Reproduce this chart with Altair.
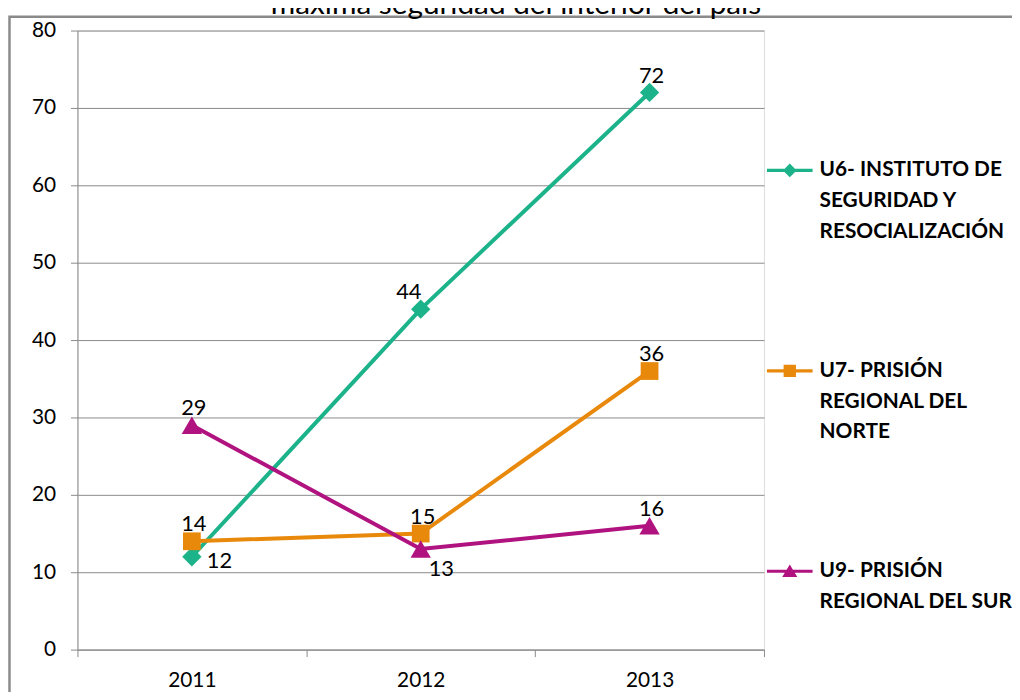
import altair as alt
import pandas as pd

# ---------------- data ----------------
years = ["2011", "2012", "2013"]
series = [
    "U6- INSTITUTO DE|SEGURIDAD Y|RESOCIALIZACIÓN",
    "U7- PRISIÓN|REGIONAL DEL|NORTE",
    "U9- PRISIÓN|REGIONAL DEL SUR",
]
u6_values = [12, 44, 72]
u7_values = [14, 15, 36]
u9_values = [29, 13, 16]
y_ticks = [0, 10, 20, 30, 40, 50, 60, 70, 80]
title_text = "máxima seguridad del interior del país"

# ---------------- style ----------------
colors = ["#1DB38A", "#E8890C", "#B0127F"]
shapes = ["diamond", "square", "triangle-up"]
sizes = [380, 320, 420]
legend_paths = [
    "M-1,-0.07L1,-0.07L1,0.07L-1,0.07Z M0,-0.3L0.3,0L0,0.3L-0.3,0Z",
    "M-1,-0.07L1,-0.07L1,0.07L-1,0.07Z M-0.27,-0.27L0.27,-0.27L0.27,0.27L-0.27,0.27Z",
    "M-1,-0.07L1,-0.07L1,0.07L-1,0.07Z M0,-0.3L0.33,0.25L-0.33,0.25Z",
]
label_pos = {
    (series[0], "2011"): "right",
    (series[0], "2012"): "left",
    (series[2], "2012"): "below",
}
FONT = "Lato"
GRAY = "#8a8a8a"

rows = []
for s, vals in zip(series, [u6_values, u7_values, u9_values]):
    for yr, v in zip(years, vals):
        rows.append({"serie": s, "year": yr, "value": v,
                     "pos": label_pos.get((s, yr), "above")})
df = pd.DataFrame(rows)

x_enc = alt.X(
    "year:N",
    scale=alt.Scale(domain=years, paddingInner=0, paddingOuter=0),
    axis=alt.Axis(
        title=None, labelAngle=0, tickBand="extent", grid=False,
        domainColor=GRAY, tickColor=GRAY, tickSize=7, labelPadding=13,
        labelFont=FONT, labelFontSize=21, labelColor="#000",
    ),
)
y_enc = alt.Y(
    "value:Q",
    scale=alt.Scale(domain=[0, 80], nice=False, zero=True),
    axis=alt.Axis(
        title=None, values=y_ticks, grid=True, gridColor=GRAY, gridWidth=1,
        domainColor=GRAY, tickColor=GRAY, tickSize=7, labelPadding=15,
        labelFont=FONT, labelFontSize=21, labelColor="#000",
    ),
)

base = alt.Chart(df)

frame = alt.Chart(alt.Data(values=[{"f": 1}])).mark_rect(
    fillOpacity=0, stroke=GRAY, strokeWidth=2.5
).encode(
    x=alt.value(-68.5), x2=alt.value(1300), y=alt.value(-14), y2=alt.value(1300)
)

series_layers = []
for s, col, shp, sz in zip(series, colors, shapes, sizes):
    sub = base.transform_filter(alt.datum.serie == s)
    series_layers.append(
        sub.mark_line(strokeWidth=4, color=col).encode(x=x_enc, y=y_enc)
    )
    series_layers.append(
        sub.mark_point(shape=shp, filled=True, size=sz, opacity=1, color=col)
        .encode(x=x_enc, y=y_enc)
    )

legend = alt.Legend(
    title=None, orient="none", legendX=695, legendY=118,
    labelExpr="split(datum.label, '|')",
    labelFont=FONT, labelFontWeight="bold", labelFontSize=21, labelColor="#000",
    labelLimit=0, labelOffset=7, symbolSize=2116, symbolStrokeWidth=0,
    rowPadding=107, padding=0,
)
legend_layer = base.transform_filter("false").mark_point(filled=True, opacity=1).encode(
    color=alt.Color("serie:N", scale=alt.Scale(domain=series, range=colors),
                    legend=legend),
    shape=alt.Shape("serie:N", scale=alt.Scale(domain=series, range=legend_paths),
                    legend=legend),
)

txt = dict(font=FONT, fontSize=22, color="#000", baseline="alphabetic")
lab_above = base.transform_filter(alt.datum.pos == "above").mark_text(
    dx=2, dy=-10, align="center", **txt).encode(x=x_enc, y=y_enc, text="value:Q")
lab_left = base.transform_filter(alt.datum.pos == "left").mark_text(
    dx=-12, dy=-10, align="center", **txt).encode(x=x_enc, y=y_enc, text="value:Q")
lab_right = base.transform_filter(alt.datum.pos == "right").mark_text(
    dx=15, dy=11, align="left", **txt).encode(x=x_enc, y=y_enc, text="value:Q")
lab_below = base.transform_filter(alt.datum.pos == "below").mark_text(
    dx=8, dy=27, align="left", **txt).encode(x=x_enc, y=y_enc, text="value:Q")

chart = alt.layer(
    frame, *series_layers, legend_layer,
    lab_above, lab_left, lab_right, lab_below,
).properties(
    width=692, height=624,
    title=alt.Title(title_text, font=FONT, fontSize=30, fontWeight="normal",
                    color="#000", anchor="middle", dx=96, dy=31, offset=2,
                    baseline="alphabetic"),
    autosize=alt.AutoSizeParams(type="none"),
    padding={"left": 70, "top": 20, "right": 250, "bottom": 40},
).configure_view(stroke=None).configure(
    style={"guide-label": {"lineHeight": 31}}
)

chart.save("out.html", embed_options={"renderer": "svg", "actions": False})
